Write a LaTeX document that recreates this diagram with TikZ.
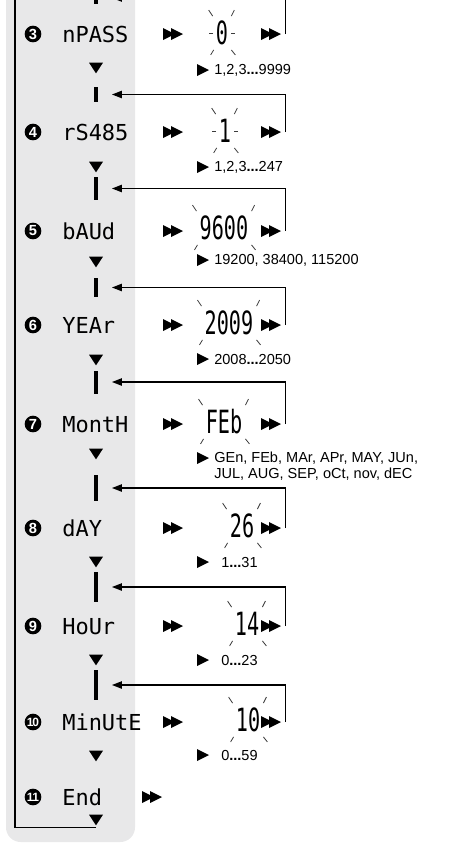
\documentclass[tikz,border=0pt]{standalone}
\usepackage{fontspec}
\setmainfont{Liberation Sans}
\newfontfamily\lcdfont{DejaVu Sans Mono}
\newfontfamily\lcdvalfont[FakeStretch=0.63]{DejaVu Sans Mono}
\usepackage{tikz}
\usetikzlibrary{arrows.meta}
\usetikzlibrary{calc}

\definecolor{panelgray}{RGB}{232,232,233}
\definecolor{raygray}{RGB}{60,60,60}

% blinking value: four corner rays
\newcommand{\blinkrays}[1]{%
  \draw[ray] ([shift={(-3,5)}]#1.north west) -- ++(-4,6);
  \draw[ray] ([shift={(3,5)}]#1.north east) -- ++(3,6);
  \draw[ray] ([shift={(-2,-5)}]#1.south west) -- ++(-3,-5);
  \draw[ray] ([shift={(3,-5)}]#1.south east) -- ++(4,-5);
}
% narrow values get two more rays at the sides
\newcommand{\siderays}[1]{%
  \draw[ray] ([xshift=-2pt]#1.west) -- ++(-4,0);
  \draw[ray] ([xshift=2pt]#1.east) -- ++(4,0);
}

\begin{document}
\begin{tikzpicture}[
    x=0.75pt, y=0.75pt,
    panel/.style={
        fill=panelgray,
        rounded corners=11pt
    },
    stepnum/.style={
        circle,
        fill=black,
        text=white,
        minimum size=12.5pt,
        inner sep=0pt,
        font=\fontsize{11}{11}\selectfont\bfseries
    },
    lcd/.style={
        anchor=west,
        inner sep=0pt,
        text height=12pt,
        text depth=0pt,
        font=\lcdfont\fontsize{16.5}{16.5}\selectfont
    },
    valtext/.style={
        inner sep=0pt,
        text height=17.5pt,
        text depth=0pt,
        font=\lcdvalfont\fontsize{24}{24}\selectfont
    },
    rangetext/.style={
        anchor=west,
        inner sep=0pt,
        align=left,
        font=\fontsize{10.9}{11.5}\selectfont
    },
    ffwd/.style={
        minimum width=15pt,
        minimum height=9pt,
        inner sep=0pt,
        path picture={
            \fill (path picture bounding box.south west) -- ++(0,12) -- ++(12,-6) -- cycle;
            \fill ([xshift=6pt]path picture bounding box.south west) -- ++(0,12) -- ++(12,-6) -- cycle;
        }
    },
    pointer/.style={
        minimum width=9pt,
        minimum height=9pt,
        inner sep=0pt,
        path picture={
            \fill (path picture bounding box.south west) -- (path picture bounding box.north west)
                -- (path picture bounding box.east) -- cycle;
        }
    },
    dnmark/.style={
        minimum width=10.5pt,
        minimum height=8pt,
        inner sep=0pt,
        path picture={
            \fill (path picture bounding box.north west) -- (path picture bounding box.north east)
                -- (path picture bounding box.south) -- cycle;
        }
    },
    bar/.style={
        fill=black,
        minimum width=2.5pt,
        inner sep=0pt
    },
    feed/.style={
        draw=black,
        line width=1pt,
        shorten >=10.5pt,
        -{Triangle[length=7.5pt,width=5.5pt]}
    },
    conn/.style={
        draw=black,
        line width=1pt
    },
    ray/.style={
        draw=raygray,
        line width=0.6pt
    }
]

\useasboundingbox (0,0) rectangle (456,-843);
\clip (0,0) rectangle (456,-843);

% --- Panel
\fill[panel] (6,20) rectangle (135,-842);

% --- Step 2 (cut off at the top)
\node[bar, minimum height=9pt] (b2) at (96,2) {};

% --- Step 3
\node[stepnum] (s3) at (33,-34) {3};
\node[lcd] (d3) at (62,-34) {nPASS};
\node[ffwd] (fa3) at (173,-34) {};
\node[valtext] (v3) at (222,-33) {0};
\node[ffwd] (fb3) at (271,-34) {};
\node[dnmark] (t3) at (96,-68) {};
\node[pointer] (p3) at (203,-70) {};
\node[rangetext] (r3) at (214,-70) {1,2,3\textbf{...}9999};
\node[bar, minimum height=11.25pt] (b3) at (96,-94.5) {};

% --- Step 4
\node[stepnum] (s4) at (33,-132) {4};
\node[lcd] (d4) at (62,-132) {rS485};
\node[ffwd] (fa4) at (173,-132) {};
\node[valtext] (v4) at (225,-131) {1};
\node[ffwd] (fb4) at (271,-132) {};
\node[dnmark] (t4) at (96,-167) {};
\node[pointer] (p4) at (203,-167) {};
\node[rangetext] (r4) at (214,-167) {1,2,3\textbf{...}247};
\node[bar, minimum height=17.25pt] (b4) at (96,-188.5) {};

% --- Step 5
\node[stepnum] (s5) at (33,-231) {5};
\node[lcd] (d5) at (62,-231) {bAUd};
\node[ffwd] (fa5) at (173,-231) {};
\node[valtext] (v5) at (224,-228) {9600};
\node[ffwd] (fb5) at (271,-231) {};
\node[dnmark] (t5) at (96,-262) {};
\node[pointer] (p5) at (203,-260) {};
\node[rangetext] (r5) at (214,-260) {19200, 38400, 115200};
\node[bar, minimum height=14.25pt] (b5) at (96,-287.5) {};

% --- Step 6
\node[stepnum] (s6) at (33,-325) {6};
\node[lcd] (d6) at (62,-325) {YEAr};
\node[ffwd] (fa6) at (173,-325) {};
\node[valtext] (v6) at (229,-323) {2009};
\node[ffwd] (fb6) at (271,-325) {};
\node[dnmark] (t6) at (96,-360) {};
\node[pointer] (p6) at (203,-359) {};
\node[rangetext] (r6) at (214,-359) {2008\textbf{...}2050};
\node[bar, minimum height=17.25pt] (b6) at (96,-382) {};

% --- Step 7
\node[stepnum] (s7) at (33,-424) {7};
\node[lcd] (d7) at (62,-424) {MontH};
\node[ffwd] (fa7) at (173,-424) {};
\node[valtext] (v7) at (224,-422) {FEb};
\node[ffwd] (fb7) at (271,-424) {};
\node[dnmark] (t7) at (96,-454) {};
\node[pointer] (p7) at (203,-458) {};
\node[rangetext] (r7) at (214,-466) {GEn, FEb, MAr, APr, MAY, JUn,\\JUL, AUG, SEP, oCt, nov, dEC};
\node[bar, minimum height=19.5pt] (b7) at (96,-488) {};

% --- Step 8
\node[stepnum] (s8) at (33,-528) {8};
\node[lcd] (d8) at (62,-528) {dAY};
\node[ffwd] (fa8) at (173,-528) {};
\node[valtext] (v8) at (242,-526) {26};
\node[ffwd] (fb8) at (271,-528) {};
\node[dnmark] (t8) at (96,-562) {};
\node[pointer] (p8) at (203,-562) {};
\node[rangetext] (r8) at (221,-562) {1\textbf{...}31};
\node[bar, minimum height=22.5pt] (b8) at (96,-587) {};

% --- Step 9
\node[stepnum] (s9) at (33,-626) {9};
\node[lcd] (d9) at (62,-626) {HoUr};
\node[ffwd] (fa9) at (173,-626) {};
\node[valtext] (v9) at (247,-624) {14};
\node[ffwd] (fb9) at (271,-626) {};
\node[dnmark] (t9) at (96,-660) {};
\node[pointer] (p9) at (203,-660) {};
\node[rangetext] (r9) at (221,-660) {0\textbf{...}23};
\node[bar, minimum height=22.5pt] (b9) at (96,-685) {};

% --- Step 10
\node[stepnum, font=\fontsize{9}{9}\selectfont\bfseries] (s10) at (33,-722) {1\kern-0.8pt0};
\node[lcd] (d10) at (62,-722) {MinUtE};
\node[ffwd] (fa10) at (173,-722) {};
\node[valtext] (v10) at (248,-720) {10};
\node[ffwd] (fb10) at (271,-722) {};
\node[dnmark] (t10) at (96,-756) {};
\node[pointer] (p10) at (203,-755) {};
\node[rangetext] (r10) at (221,-755) {0\textbf{...}59};

% --- Step 11
\node[stepnum, font=\fontsize{9}{9}\selectfont\bfseries] (s11) at (33,-797) {1\kern-0.8pt1};
\node[lcd] (d11) at (62,-797) {End};
\node[ffwd] (fa11) at (152,-797) {};
\node[dnmark] (t11) at (96,-820) {};
\coordinate (loopTop) at (15,10);

% --- Blinking values
\blinkrays{v3} \siderays{v3}
\blinkrays{v4} \siderays{v4}
\blinkrays{v5}
\blinkrays{v6}
\blinkrays{v7}
\blinkrays{v8}
\blinkrays{v9}
\blinkrays{v10}

% --- Connections
\draw[feed] ([xshift=3pt]fb3.east) |- (b2.east);
\draw[feed] ([xshift=3pt]fb4.east) |- (b3.east);
\draw[feed] ([xshift=3pt]fb5.east) |- (b4.east);
\draw[feed] ([xshift=3pt]fb6.east) |- (b5.east);
\draw[feed] ([xshift=3pt]fb7.east) |- (b6.east);
\draw[feed] ([xshift=3pt]fb8.east) |- (b7.east);
\draw[feed] ([xshift=3pt]fb9.east) |- (b8.east);
\draw[feed] ([xshift=3pt]fb10.east) |- (b9.east);
\draw[conn] ([yshift=-1.5pt]t11.south) -| (loopTop);

\end{tikzpicture}
\end{document}
